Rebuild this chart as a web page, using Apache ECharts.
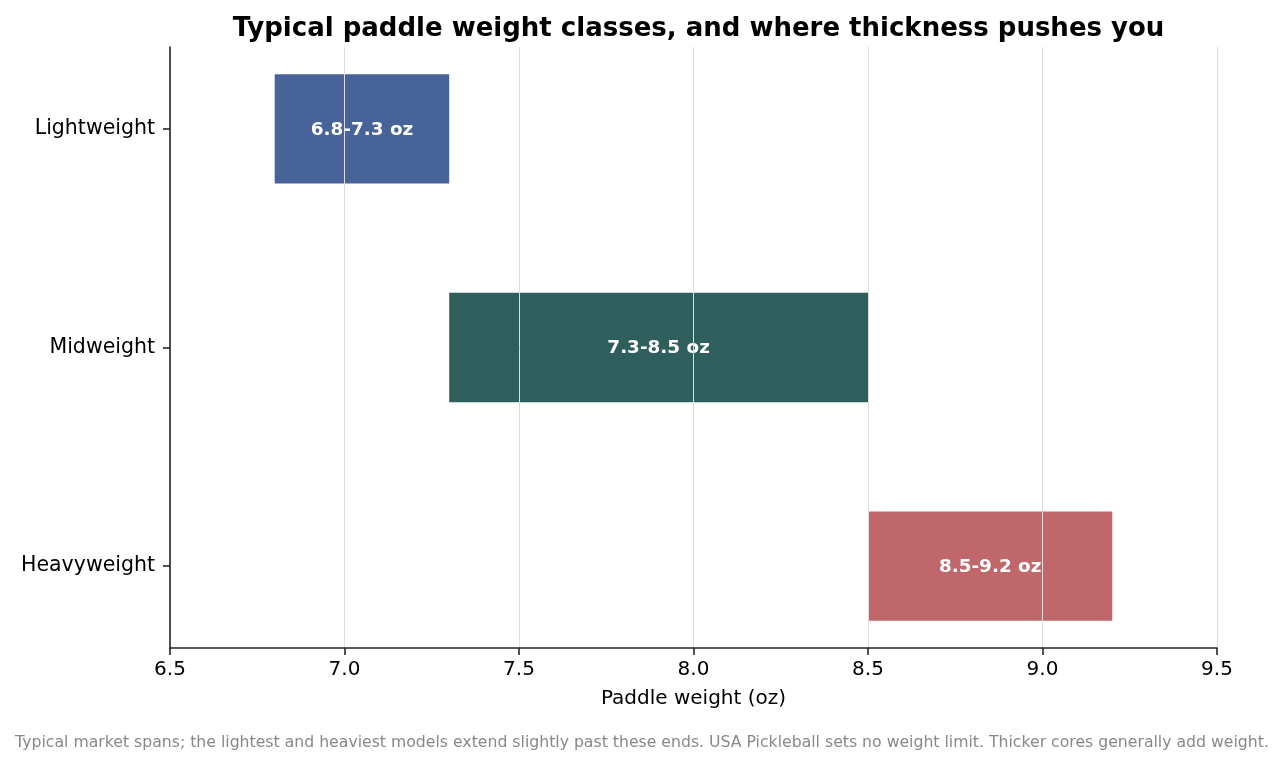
<!DOCTYPE html>
<html>
<head>
<meta charset="utf-8">
<script src="https://cdn.jsdelivr.net/npm/echarts@6/dist/echarts.min.js"></script>
<style>
  html, body { margin: 0; padding: 0; background: #fff; }
  #chart { width: 1284px; height: 767px; }
</style>
</head>
<body>
<div id="chart"></div>
<script>
var classes = ['Lightweight', 'Midweight', 'Heavyweight'];
var lowOz = [6.8, 7.3, 8.5];
var highOz = [7.3, 8.5, 9.2];
var barLabels = ['6.8-7.3 oz', '7.3-8.5 oz', '8.5-9.2 oz'];
var barColors = ['#48639a', '#2e5f5d', '#c0676b'];

var font = '"DejaVu Sans", sans-serif';

var data = classes.map(function (c, i) {
  return [i, lowOz[i], highOz[i]];
});

var myChart = echarts.init(document.getElementById('chart'));
var option = {
  animation: false,
  backgroundColor: '#fff',
  title: {
    text: 'Typical paddle weight classes, and where thickness pushes you',
    left: 693.5,
    top: 11,
    textAlign: 'center',
    textStyle: { fontFamily: font, fontSize: 26, fontWeight: 'bold', color: '#000' }
  },
  grid: { left: 170, right: 67, top: 47, bottom: 119 },
  xAxis: {
    type: 'value',
    min: 6.5,
    max: 9.5,
    interval: 0.5,
    z: 5,
    name: 'Paddle weight (oz)',
    nameLocation: 'middle',
    nameGap: 41,
    nameTextStyle: { fontFamily: font, fontSize: 20, color: '#000' },
    axisLine: { show: true, onZero: false, lineStyle: { color: '#262626', width: 1.6 } },
    axisTick: { show: true, length: 7, lineStyle: { color: '#262626', width: 1.6 } },
    axisLabel: {
      fontFamily: font, fontSize: 20, color: '#000', margin: 12,
      formatter: function (v) { return v.toFixed(1); }
    },
    splitLine: { show: true, lineStyle: { color: '#dddddd', width: 1 } }
  },
  yAxis: {
    type: 'value',
    min: -0.375,
    max: 2.375,
    inverse: true,
    z: 6,
    axisLine: { show: true, onZero: false, lineStyle: { color: '#262626', width: 1.6 } },
    axisTick: { show: true, length: 7, customValues: [0, 1, 2], lineStyle: { color: '#262626', width: 1.6 } },
    axisLabel: {
      fontFamily: font, fontSize: 20.5, color: '#000', margin: 15,
      customValues: [0, 1, 2],
      formatter: function (v) { return classes[Math.round(v)] || ''; }
    },
    splitLine: { show: false }
  },
  series: [{
    type: 'custom',
    z: 2,
    data: data,
    encode: { x: [1, 2], y: 0 },
    renderItem: function (params, api) {
      var i = api.value(0);
      var start = api.coord([api.value(1), i]);
      var end = api.coord([api.value(2), i]);
      var h = api.size([0, 0.5])[1];
      return {
        type: 'group',
        children: [{
          type: 'rect',
          shape: { x: start[0], y: start[1] - h / 2, width: end[0] - start[0], height: h },
          style: { fill: barColors[i] }
        }, {
          type: 'text',
          x: (start[0] + end[0]) / 2,
          y: start[1] + 1,
          style: {
            text: barLabels[i],
            align: 'center',
            verticalAlign: 'middle',
            fill: '#fff',
            fontFamily: font,
            fontSize: 18.4,
            fontWeight: 'bold'
          }
        }]
      };
    }
  }],
  graphic: [{
    type: 'text',
    left: 'center',
    top: 735,
    style: {
      text: 'Typical market spans; the lightest and heaviest models extend slightly past these ends. USA Pickleball sets no weight limit. Thicker cores generally add weight.',
      fontFamily: font,
      fontSize: 15.7,
      fill: '#888888'
    }
  }]
};
myChart.setOption(option);
</script>
</body>
</html>
